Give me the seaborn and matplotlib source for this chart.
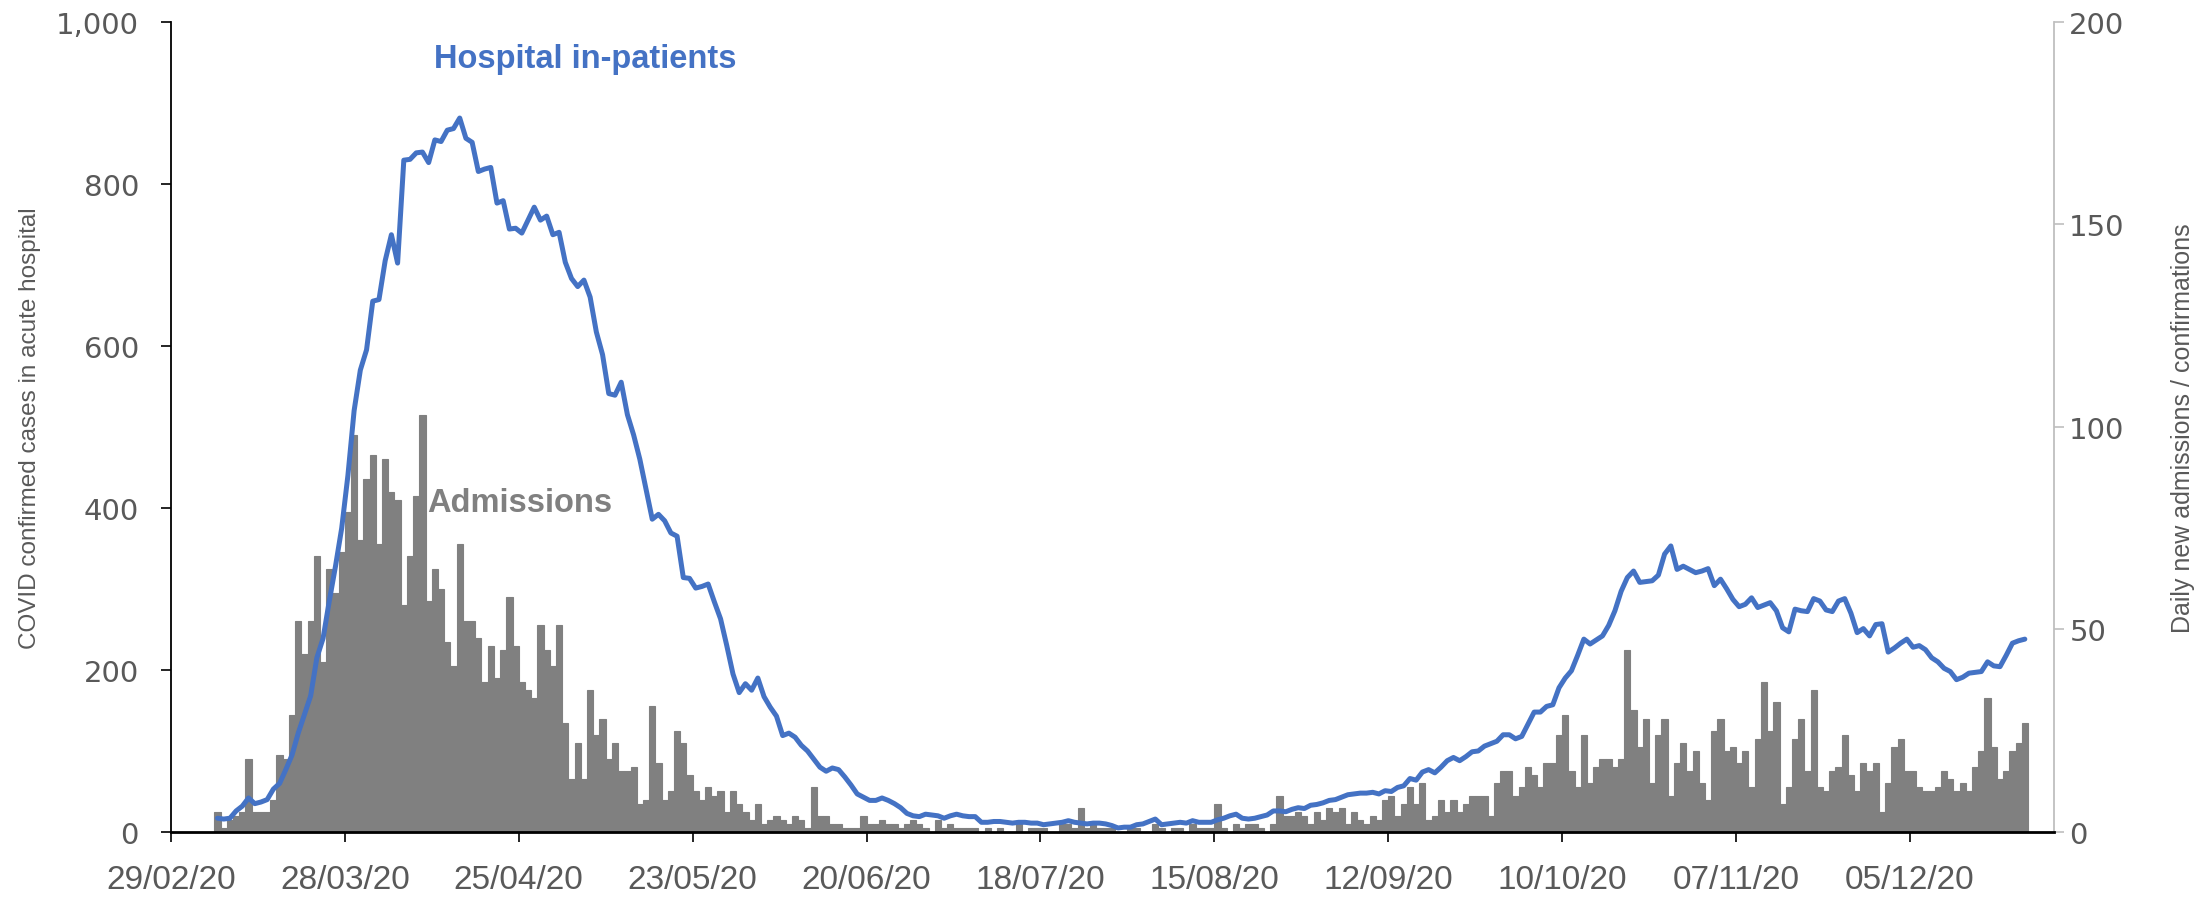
import matplotlib
matplotlib.use("Agg")
import matplotlib.pyplot as plt
import numpy as np
import pandas as pd
import seaborn as sns
from matplotlib.ticker import FuncFormatter, MultipleLocator

# daily values from 07/03/20 to 23/12/20, ten days per row
admissions = [
    5, 1, 3, 4, 5, 18, 5, 5, 5, 8,
    19, 18, 29, 52, 44, 52, 68, 42, 65, 59,
    69, 79, 98, 72, 87, 93, 71, 92, 84, 82,
    56, 68, 83, 103, 57, 65, 60, 47, 41, 71,
    52, 52, 48, 37, 46, 38, 45, 58, 46, 37,
    35, 33, 51, 45, 41, 51, 27, 13, 22, 13,
    35, 24, 28, 18, 22, 15, 15, 16, 7, 8,
    31, 17, 8, 10, 25, 22, 14, 10, 8, 11,
    9, 10, 5, 10, 7, 5, 3, 7, 2, 3,
    4, 3, 2, 4, 3, 1, 11, 4, 4, 2,
    2, 1, 1, 1, 4, 2, 2, 3, 2, 2,
    1, 2, 3, 2, 1, 0, 3, 1, 2, 1,
    1, 1, 1, 0, 1, 0, 1, 0, 0, 2,
    0, 1, 1, 1, 0, 0, 2, 2, 1, 6,
    1, 2, 1, 1, 1, 0, 0, 1, 1, 0,
    0, 2, 1, 0, 1, 1, 0, 2, 1, 1,
    1, 7, 1, 0, 2, 1, 2, 2, 1, 0,
    2, 9, 4, 4, 5, 4, 2, 5, 3, 6,
    5, 6, 2, 5, 3, 2, 4, 3, 8, 9,
    4, 7, 11, 7, 12, 3, 4, 8, 5, 8,
    5, 7, 9, 9, 9, 4, 12, 15, 15, 9,
    11, 16, 14, 11, 17, 17, 24, 29, 15, 11,
    24, 12, 16, 18, 18, 16, 18, 45, 30, 21,
    28, 12, 24, 28, 9, 17, 22, 15, 20, 12,
    8, 25, 28, 20, 21, 17, 20, 11, 23, 37,
    25, 32, 7, 11, 23, 28, 15, 35, 11, 10,
    15, 16, 24, 14, 10, 17, 15, 17, 5, 12,
    21, 23, 15, 15, 11, 10, 10, 11, 15, 13,
    10, 12, 10, 16, 20, 33, 21, 13, 15, 20,
    22, 27,
]

inpatients = [
    17, 16, 17, 26, 32, 42, 35, 37, 40, 53,
    60, 77, 95, 122, 145, 168, 215, 239, 285, 328,
    375, 440, 520, 570, 595, 655, 657, 705, 737, 702,
    829, 830, 838, 839, 826, 854, 852, 866, 868, 881,
    856, 851, 815, 818, 820, 776, 779, 744, 745, 739,
    755, 771, 755, 760, 737, 740, 703, 683, 673, 681,
    660, 617, 589, 541, 539, 555, 515, 490, 460, 423,
    386, 392, 384, 369, 365, 314, 313, 301, 303, 306,
    284, 263, 230, 195, 172, 183, 175, 190, 167, 154,
    143, 119, 122, 117, 107, 100, 90, 80, 75, 79,
    77, 68, 58, 47, 43, 39, 39, 42, 39, 35,
    30, 23, 20, 19, 22, 21, 20, 17, 20, 22,
    20, 19, 19, 12, 12, 13, 13, 12, 11, 12,
    12, 11, 11, 9, 10, 11, 12, 14, 12, 11,
    10, 11, 11, 10, 8, 5, 6, 6, 9, 10,
    13, 16, 9, 10, 11, 12, 11, 14, 12, 12,
    12, 15, 17, 20, 22, 17, 16, 17, 19, 21,
    26, 26, 25, 28, 30, 29, 33, 34, 36, 39,
    40, 43, 46, 47, 48, 48, 49, 47, 51, 50,
    55, 57, 66, 64, 74, 77, 73, 80, 88, 92,
    88, 93, 99, 100, 106, 109, 112, 120, 120, 115,
    118, 133, 148, 148, 155, 157, 178, 190, 199, 218,
    238, 232, 237, 242, 255, 273, 297, 314, 322, 308,
    309, 310, 317, 343, 353, 324, 328, 324, 320, 322,
    325, 304, 312, 300, 287, 278, 281, 289, 277, 280,
    283, 273, 252, 247, 275, 273, 272, 288, 285, 274,
    272, 285, 288, 270, 246, 251, 242, 256, 257, 222,
    227, 233, 238, 228, 230, 225, 215, 210, 202, 198,
    188, 191, 196, 197, 198, 210, 205, 204, 218, 233,
    236, 238,
]

first_day = "2020-03-07"
tick_labels = ["29/02/20", "28/03/20", "25/04/20", "23/05/20", "20/06/20", "18/07/20",
               "15/08/20", "12/09/20", "10/10/20", "07/11/20", "05/12/20"]

LINE = "#4472C4"
BAR = "#808080"
TEXT = "#595959"

sns.set_theme(style="white")
plt.rcParams["font.family"] = ["DejaVu Sans"]

origin = pd.Timestamp("2020-02-29")
df = pd.DataFrame({
    "date": pd.date_range(first_day, periods=len(admissions), freq="D"),
    "admissions": admissions,
    "inpatients": inpatients,
})
# each day fills the slot between its date and the next one
df["day"] = (df["date"] - origin).dt.days + 0.5
tick_days = (pd.to_datetime(tick_labels, format="%d/%m/%y") - origin).days

fig = plt.figure(figsize=(22.11, 9.03), dpi=100)
ax = fig.add_axes([0.0773, 0.0775, 0.8517, 0.8975])
ax2 = ax.twinx()

sns.barplot(data=df, x="day", y="admissions", native_scale=True, width=1,
            color=BAR, saturation=1, edgecolor=BAR, linewidth=0.8,
            errorbar=None, ax=ax2)
sns.lineplot(data=df, x="day", y="inpatients", color=LINE, linewidth=3.6, ax=ax)

ax.set_zorder(ax2.get_zorder() + 1)
ax.patch.set_visible(False)

ax.set_xlim(0, 303.2)
ax.set_ylim(0, 1000)
ax2.set_ylim(0, 200)
ax.yaxis.set_major_locator(MultipleLocator(200))
ax2.yaxis.set_major_locator(MultipleLocator(50))
ax.yaxis.set_major_formatter(FuncFormatter(lambda v, _: f"{v:,.0f}"))
ax.set_xticks(tick_days)
ax.set_xticklabels(tick_labels)
ax.set_xlabel("")
ax.set_ylabel("")
ax2.set_xlabel("")
ax2.set_ylabel("")

for s in ["top", "right"]:
    ax.spines[s].set_visible(False)
for s in ["top", "left", "bottom"]:
    ax2.spines[s].set_visible(False)
ax.spines["left"].set_color("black")
ax.spines["bottom"].set_color("black")
ax.spines["left"].set_linewidth(1.3)
ax.spines["bottom"].set_linewidth(2.0)
ax2.spines["right"].set_color("#bfbfbf")
ax2.spines["right"].set_linewidth(1.3)

ax.tick_params(axis="y", direction="out", length=7, width=1.2, color="black",
               pad=16, labelsize=21, labelcolor=TEXT, left=True)
ax.tick_params(axis="x", direction="out", length=7, width=1.2, color="black",
               pad=16, labelsize=24, labelcolor=TEXT, bottom=True)
for lab in ax.get_xticklabels():
    lab.set_family("Liberation Sans")
ax2.tick_params(axis="y", direction="out", length=7, width=1.2, color="#bfbfbf",
                pad=4, labelsize=21, labelcolor=TEXT, right=True)

fig.text(30 / 2211, 1 - 428 / 903, "COVID confirmed cases in acute hospital",
         rotation=90, ha="center", va="center", fontsize=17.5,
         family="Liberation Sans", color=TEXT)
fig.text(2183 / 2211, 1 - 428 / 903, "Daily new admissions / confirmations",
         rotation=90, ha="center", va="center", fontsize=18,
         family="Liberation Sans", color=TEXT)

ax.text(66.7, 955, "Hospital in-patients", ha="center", va="center",
        fontsize=23.5, fontweight="bold", family="Liberation Sans", color=LINE)
ax.text(56.2, 407, "Admissions", ha="center", va="center",
        fontsize=23.5, fontweight="bold", family="Liberation Sans", color=BAR)

fig.savefig("out.png", dpi=100)
